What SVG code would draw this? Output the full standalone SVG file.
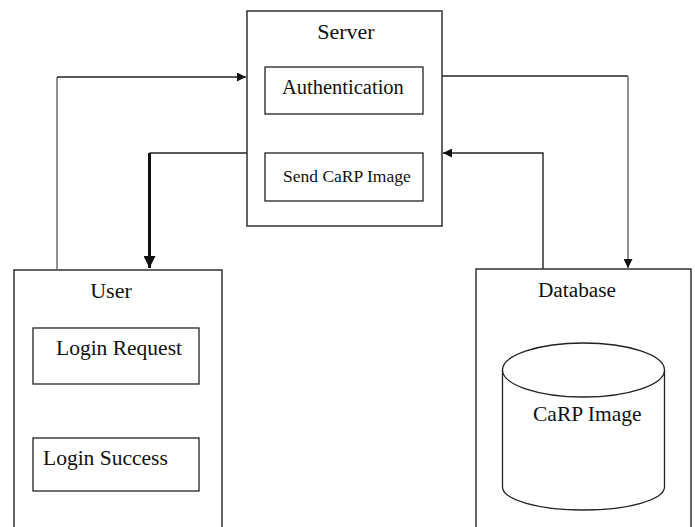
<svg xmlns="http://www.w3.org/2000/svg" width="695" height="527" viewBox="0 0 695 527">
<style>
.box{fill:#fff;stroke:#333;stroke-width:1.5}
.inner{fill:#fff;stroke:#222;stroke-width:1.3}
.t{font-family:"Liberation Serif","Times New Roman",serif;fill:#111}
.c{fill:none;stroke:#222;stroke-width:1.4}
.g{fill:none;stroke:#777;stroke-width:1.6}
</style>
<defs>
<marker id="ah" viewBox="0 0 10 10" refX="10" refY="5" markerWidth="9" markerHeight="9" markerUnits="userSpaceOnUse" orient="auto">
<path d="M0,0 L10,5 L0,10 z" fill="#111"/>
</marker>
<marker id="ahs" viewBox="0 0 10 10" refX="10" refY="5" markerWidth="4" markerHeight="4" orient="auto">
<path d="M0,0 L10,5 L0,10 z" fill="#111"/>
</marker>
</defs>
<rect width="695" height="527" fill="#fff"/>
<g id="connectors">
<path class="g" d="M57,269 V77"/>
<path class="c" d="M57,77 H246" marker-end="url(#ah)"/>
<path class="c" d="M247,153 H149.5"/>
<path d="M149.5,153 V268" fill="none" stroke="#111" stroke-width="3" marker-end="url(#ahs)"/>
<path class="c" d="M442,76 H628"/>
<path class="g" d="M628,76 V268" marker-end="url(#ah)"/>
<path class="c" d="M543,269 V153 H443" marker-end="url(#ah)"/>
</g>
<g id="server">
<rect class="box" x="247" y="11" width="195" height="215"/>
<text class="t" x="346" y="39" font-size="22" text-anchor="middle">Server</text>
<g id="authentication">
<rect class="inner" x="265" y="67" width="158" height="47"/>
<text class="t" x="282" y="94" font-size="20.5">Authentication</text>
</g>
<g id="send-carp-image">
<rect class="inner" x="265" y="153" width="158" height="48"/>
<text class="t" x="283" y="182" font-size="17.5">Send CaRP Image</text>
</g>
</g>
<g id="user">
<rect class="box" x="14" y="270" width="208" height="270"/>
<text class="t" x="111" y="298" font-size="22" text-anchor="middle">User</text>
<g id="login-request">
<rect class="inner" x="33" y="328" width="166" height="56"/>
<text class="t" x="56" y="355" font-size="21.5">Login Request</text>
</g>
<g id="login-success">
<rect class="inner" x="33" y="438" width="166" height="53"/>
<text class="t" x="43" y="465" font-size="21.5">Login Success</text>
</g>
</g>
<g id="database">
<rect class="box" x="476" y="269" width="215" height="270"/>
<text class="t" x="577" y="297" font-size="21.3" text-anchor="middle">Database</text>
<g id="carp-image">
<path d="M502.5,370 V487 A81,23 0 0 0 664.5,487 V370" fill="#fff" stroke="#222" stroke-width="1.3"/>
<ellipse cx="583.5" cy="370" rx="81" ry="27" fill="#fff" stroke="#222" stroke-width="1.3"/>
<text class="t" x="533" y="421" font-size="21.5">CaRP Image</text>
</g>
</g>
</svg>
